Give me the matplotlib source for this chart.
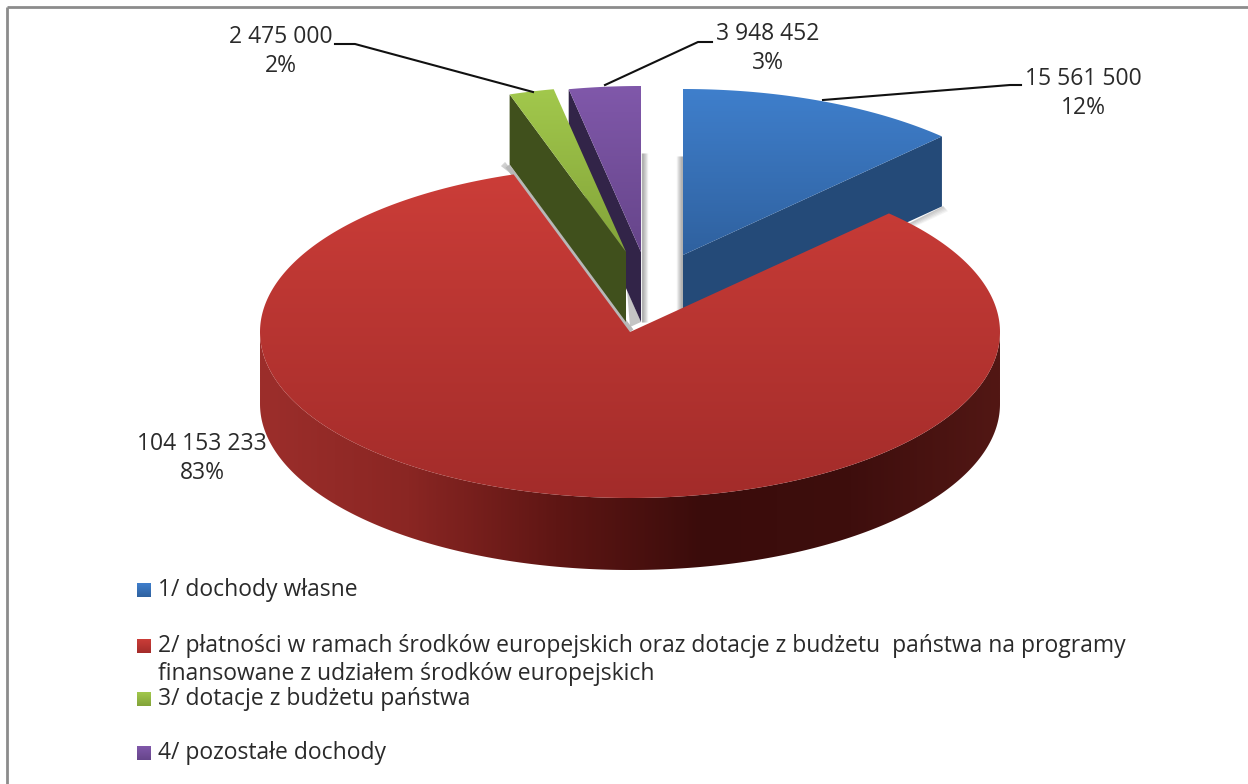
import numpy as np
import matplotlib
matplotlib.use("Agg")
import matplotlib.pyplot as plt
from matplotlib.colors import LinearSegmentedColormap
from matplotlib.patches import Polygon

plt.rcParams['font.family'] = ['Open Sans', 'DejaVu Sans']

# ---- data ----
categories = [
    "1/ dochody własne",
    "2/ płatności w ramach środków europejskich oraz dotacje z budżetu  państwa na programy\nfinansowane z udziałem środków europejskich",
    "3/ dotacje z budżetu państwa",
    "4/ pozostałe dochody",
]
values = [15561500, 104153233, 2475000, 3948452]
top_colors = [("#3f7fcc", "#2f619f"), ("#cb3d38", "#a32c2a"), ("#a2c84c", "#82a339"), ("#8058aa", "#66458a")]
wall_colors = ["#244a78", None, "#40501c", "#322448"]
centers = [(683, 255), (630, 332), (626, 252), (641, 252)]
label_pos = [(1083, 78), (202, 443), (281, 36), (768, 33)]
legend_y = [589, 645, 698, 752]

RX, RY, DEPTH = 370, 166, 70
W, H = 1248, 784

fig = plt.figure(figsize=(W / 100, H / 100), dpi=100)
ax = fig.add_axes([0, 0, 1, 1])


def arc(cx, cy, a0, a1, n=200):
    t = np.radians(np.linspace(a0, a1, n))
    return np.column_stack([cx + RX * np.sin(t), cy - RY * np.cos(t)])


def gradient(poly, c0, c1, vertical=True, stops=None, z=1):
    cols = stops if stops else [c0, c1]
    cmap = LinearSegmentedColormap.from_list("g", cols)
    xmin, ymin = poly.min(axis=0)
    xmax, ymax = poly.max(axis=0)
    g = np.linspace(0, 1, 256)
    arr = g[:, None] if vertical else g[None, :]
    im = ax.imshow(arr, cmap=cmap, extent=(xmin, xmax, ymax, ymin), aspect="auto",
                   zorder=z, interpolation="bilinear", origin="upper")
    patch = Polygon(poly, closed=True, transform=ax.transData, fc="none", ec="none")
    ax.add_patch(patch)
    im.set_clip_path(patch)


def shadow_v(x, y0, y1, direction, width=6, z=0.5):
    for i in range(width):
        ax.plot([x + direction * i] * 2, [y0, y1], color="#555555",
                alpha=0.42 * (1 - i / width), lw=1, zorder=z, solid_capstyle="butt")


fractions = np.array(values) / sum(values)
edges = np.concatenate([[0], np.cumsum(fractions)]) * 360

# shadows behind the separated slices
shadow_v(642, 153, 322, +1, z=0.5)
shadow_v(682, 156, 310, -1, z=0.5)
ax.add_patch(Polygon([(627, 290), (641, 322), (630, 327)], closed=True, fc="#c4c4c4", ec="none", zorder=0.6))
for i in range(5):
    ax.plot([889, 943 + i], [234 + i, 207 + i], color="#666666", alpha=0.35 * (1 - i / 5), lw=1, zorder=0.6)
for i in range(4):
    ax.plot([505 - i, 511], [163 + i, 170 + i], color="#666666", alpha=0.3, lw=1, zorder=0.6)
ax.plot([509, 630], [168, 329], color="#b8b8b8", lw=3.5, zorder=3.9)

# separated slices: wall, then top face
for idx, z in zip([0, 3, 2], [2, 3, 4]):
    cx, cy = centers[idx]
    a = arc(cx, cy, edges[idx], edges[idx + 1])
    top = np.vstack([[cx, cy], a])
    if idx == 0:
        wall = np.array([[cx, cy], a[-1], a[-1] + [0, DEPTH], [cx, cy + DEPTH]])
    else:
        wall = np.array([a[0], [cx, cy], [cx, cy + DEPTH], a[0] + [0, DEPTH]])
    ax.add_patch(Polygon(wall, closed=True, fc=wall_colors[idx], ec="none", zorder=z))
    gradient(top, *top_colors[idx], z=z + 0.1)

# large slice: rim, then top face
cx, cy = centers[1]
front = arc(cx, cy, 90, 270, 300)
rim = np.vstack([front, (front + [0, DEPTH + 2])[::-1]])
gradient(rim, None, None, vertical=False, z=5,
         stops=["#9c2e2b", "#8a2623", "#5f1614", "#3a0c0b", "#3e0e0d", "#521714"])
a = arc(cx, cy, edges[1], edges[2], 400)
top = np.vstack([[cx, cy], a])
gradient(top, *top_colors[1], z=6)

# leader lines
leaders = [([823, 1010, 1021], [100, 85, 85]),
           ([533, 355, 335], [92, 44, 44]),
           ([605, 698, 712], [85, 42, 42])]
for xs, ys in leaders:
    ax.plot(xs, ys, color="#111111", lw=1.5, zorder=8)

# value labels
TEXT = "#2a2a2a"
FS = 16.5
for v, f, (x, y) in zip(values, fractions, label_pos):
    s = f"{v:,}".replace(",", " ")
    ax.text(x, y + 1, s, ha="center", va="center", fontsize=FS, color=TEXT, zorder=9)
    ax.text(x, y + 30, f"{f * 100:.0f}%", ha="center", va="center", fontsize=FS, color=TEXT, zorder=9)

# legend
for name, y, (c0, c1) in zip(categories, legend_y, top_colors):
    sq = np.array([[137, y - 6], [151, y - 6], [151, y + 8], [137, y + 8]])
    gradient(sq, c0, c1, z=7)
    lines = name.split("\n")
    for j, line in enumerate(lines):
        ax.text(158, y + j * 28 + 1, line, ha="left", va="center", fontsize=FS, color=TEXT, zorder=9)

# frame
ax.plot([7, 7], [7, H], color="#8c8c8c", lw=2, zorder=10, solid_capstyle="butt")
ax.plot([7, W], [7, 7], color="#8c8c8c", lw=2, zorder=10, solid_capstyle="butt")

ax.set_xlim(0, W)
ax.set_ylim(H, 0)
ax.axis("off")
fig.savefig("out.png", dpi=100, facecolor="white")
